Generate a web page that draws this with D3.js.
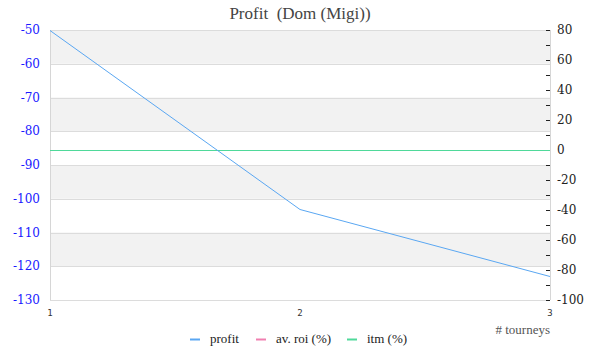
<!DOCTYPE html>
<html>
<head>
<meta charset="utf-8">
<script src="https://cdn.jsdelivr.net/npm/d3@7"></script>
<style>
  body { margin: 0; background: #fff; }
</style>
</head>
<body>
<svg id="chart" width="600" height="360"></svg>
<script>
/** tourney numbers on the x axis */
var tourneys = [1, 2, 3];

/** series values */
var profit = [-50, -103, -123];
var avRoi = [0, 0, 0];
var itm = [0, 0, 0];

/** tick labels */
var leftTicks = [-50, -60, -70, -80, -90, -100, -110, -120, -130];
var rightTicks = [80, 60, 40, 20, 0, -20, -40, -60, -80, -100];
var rightMinor = [70, 50, 30, 10, -10, -30, -50, -70, -90];

var legendNames = ['profit', 'av. roi (%)', 'itm (%)'];
var legendColors = ['#5aa7f2', '#f07fb0', '#4fd99a'];

var serif = '"Liberation Serif", "DejaVu Serif", serif';
var axisFont = '"DejaVu Serif", serif';

var margin = {top: 30, left: 50, right: 550, bottom: 300};

var svg = d3.select('#chart');

var x = d3.scaleLinear().domain([1, 3]).range([margin.left, margin.right]);
var yLeft = d3.scaleLinear().domain([-130, -50]).range([margin.bottom, margin.top]);
var yRight = d3.scaleLinear().domain([-100, 80]).range([margin.bottom, margin.top]);

// alternating bands
for (var i = 0; i < leftTicks.length - 1; i += 2) {
    svg.append('rect')
        .attr('x', margin.left)
        .attr('y', yLeft(leftTicks[i]))
        .attr('width', margin.right - margin.left)
        .attr('height', yLeft(leftTicks[i + 1]) - yLeft(leftTicks[i]))
        .attr('fill', '#f2f2f2');
}

// grid lines
svg.append('g').selectAll('line')
    .data(leftTicks)
    .enter()
    .append('line')
    .attr('x1', margin.left)
    .attr('x2', margin.right)
    .attr('y1', function (d) { return Math.round(yLeft(d)) + 0.5; })
    .attr('y2', function (d) { return Math.round(yLeft(d)) + 0.5; })
    .attr('stroke', '#dcdcdc');

// plot frame sides
svg.append('line')
    .attr('x1', margin.left + 0.5).attr('x2', margin.left + 0.5)
    .attr('y1', margin.top).attr('y2', margin.bottom)
    .attr('stroke', '#d6d6d6');
svg.append('line')
    .attr('x1', margin.right + 0.5).attr('x2', margin.right + 0.5)
    .attr('y1', margin.top).attr('y2', margin.bottom)
    .attr('stroke', '#d6d6d6');

// left axis labels
svg.append('g').selectAll('text')
    .data(leftTicks)
    .enter()
    .append('text')
    .attr('x', 40)
    .attr('y', function (d) { return yLeft(d) + 4; })
    .attr('text-anchor', 'end')
    .attr('font-family', axisFont)
    .attr('font-size', 12)
    .attr('fill', '#1a1aff')
    .text(function (d) { return d; });

// right axis ticks and labels
svg.append('g').selectAll('line')
    .data(rightTicks.concat(rightMinor))
    .enter()
    .append('line')
    .attr('x1', 546)
    .attr('x2', 550)
    .attr('y1', function (d) { return Math.round(yRight(d)) + 0.5; })
    .attr('y2', function (d) { return Math.round(yRight(d)) + 0.5; })
    .attr('stroke', '#222');

svg.append('g').selectAll('text')
    .data(rightTicks)
    .enter()
    .append('text')
    .attr('x', 557)
    .attr('y', function (d) { return yRight(d) + 4; })
    .attr('font-family', axisFont)
    .attr('font-size', 12)
    .attr('fill', '#222')
    .text(function (d) { return d; });

// x axis labels
svg.append('g').selectAll('text')
    .data(tourneys)
    .enter()
    .append('text')
    .attr('x', function (d) { return x(d); })
    .attr('y', 316)
    .attr('text-anchor', 'middle')
    .attr('font-family', '"DejaVu Sans Mono", monospace')
    .attr('font-size', 9)
    .attr('fill', '#333')
    .text(function (d) { return d; });

svg.append('text')
    .attr('x', 550)
    .attr('y', 334)
    .attr('text-anchor', 'end')
    .attr('font-family', serif)
    .attr('font-size', 13)
    .attr('fill', '#555')
    .text('# tourneys');

// lines
var line = function (scale) {
    return d3.line()
        .x(function (d, i) { return x(tourneys[i]); })
        .y(function (d) { return Math.round(scale(d)) + 0.5; });
};

svg.append('path').datum(avRoi)
    .attr('d', line(yRight)).attr('fill', 'none')
    .attr('stroke', legendColors[1]).attr('stroke-width', 1);
svg.append('path').datum(itm)
    .attr('d', line(yRight)).attr('fill', 'none')
    .attr('stroke', legendColors[2]).attr('stroke-width', 1);
svg.append('path').datum(profit)
    .attr('d', line(yLeft)).attr('fill', 'none')
    .attr('stroke', legendColors[0]).attr('stroke-width', 1);

// title
svg.append('text')
    .attr('x', 300)
    .attr('y', 19)
    .attr('text-anchor', 'middle')
    .attr('font-family', serif)
    .attr('font-size', 17)
    .attr('fill', '#444')
    .style('white-space', 'pre')
    .text('Profit  (Dom (Migi))');

// legend
var legendX = [190, 256, 347];
var legend = svg.append('g').selectAll('g')
    .data(legendNames)
    .enter()
    .append('g')
    .attr('transform', function (d, i) { return 'translate(' + legendX[i] + ',339)'; });

legend.append('line')
    .attr('x1', 0).attr('x2', 10)
    .attr('y1', 0.5).attr('y2', 0.5)
    .attr('stroke', function (d, i) { return legendColors[i]; })
    .attr('stroke-width', 2);

legend.append('text')
    .attr('x', 20)
    .attr('y', 4)
    .attr('font-family', serif)
    .attr('font-size', 13)
    .attr('fill', '#222')
    .text(function (d) { return d; });
</script>
</body>
</html>
